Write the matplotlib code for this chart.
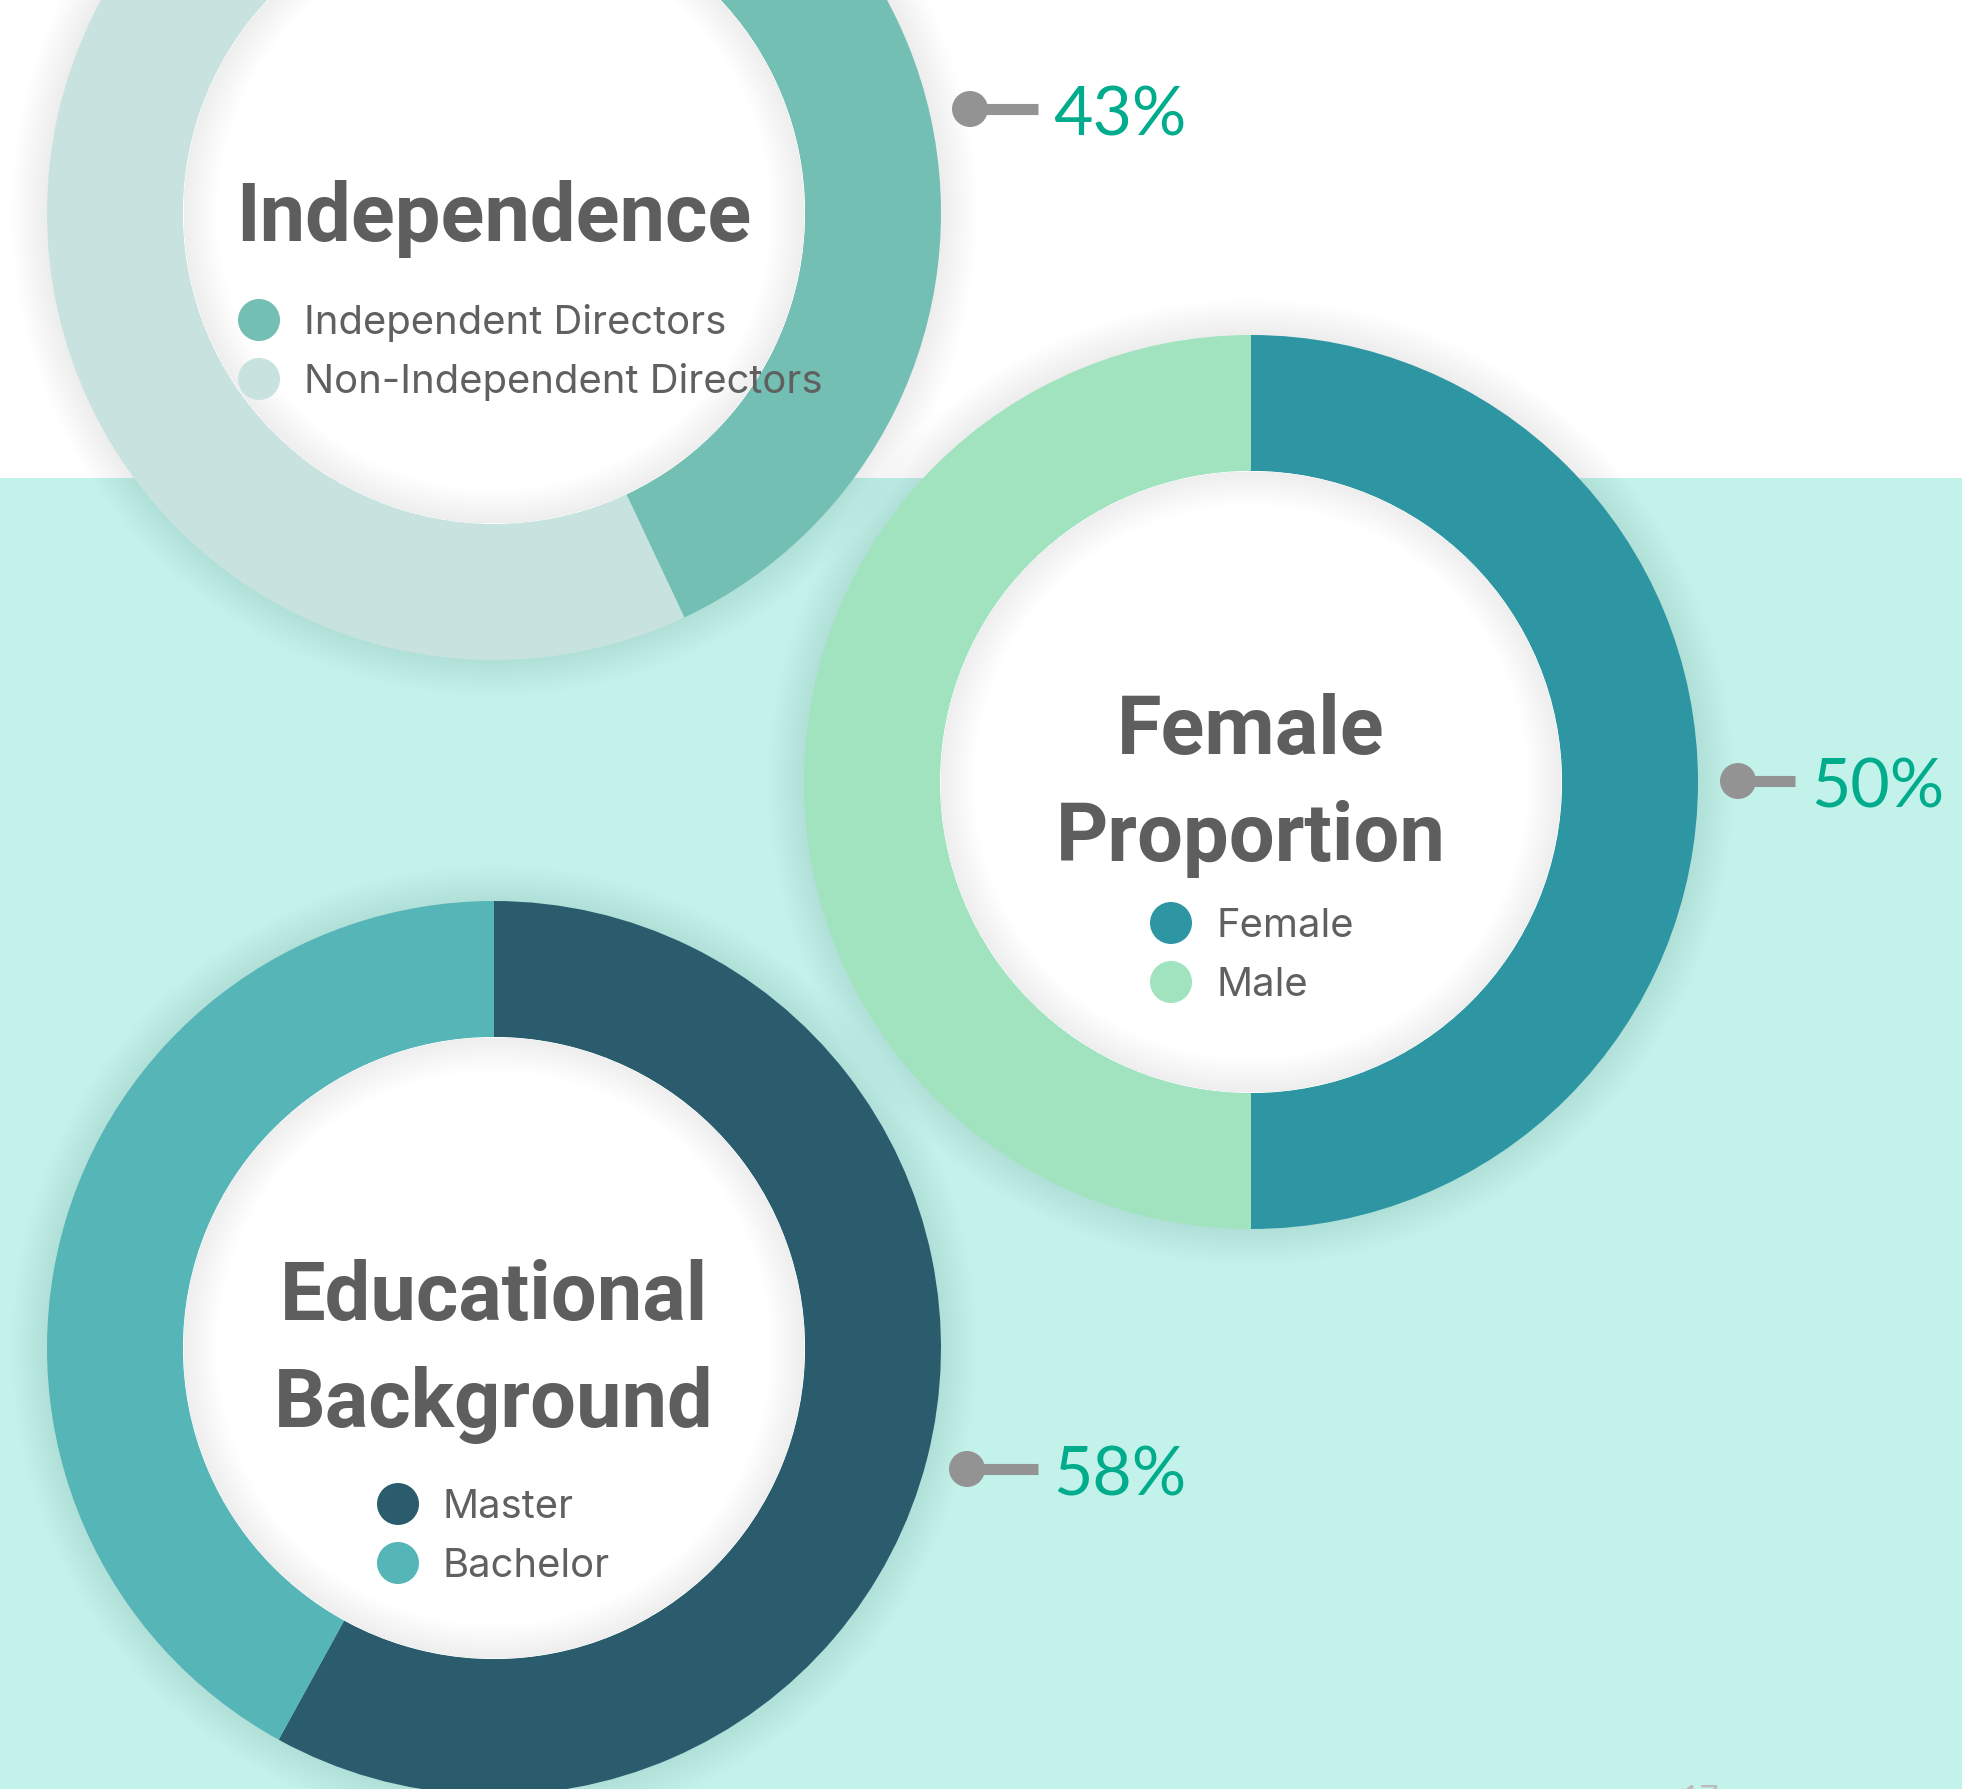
import matplotlib
matplotlib.use("Agg")
import matplotlib.pyplot as plt
from matplotlib.patches import Circle, Wedge, Rectangle

W, H = 1962, 1789

# board composition data
independence_labels = ["Independent Directors", "Non-Independent Directors"]
independence_values = [43, 57]
independence_colors = ["#74BFB3", "#C8E3DF"]

gender_labels = ["Female", "Male"]
gender_values = [50, 50]
gender_colors = ["#2E95A3", "#A0E3BE"]

education_labels = ["Master", "Bachelor"]
education_values = [58, 42]
education_colors = ["#2B5C6E", "#55B5B7"]

TITLE_COLOR = "#5E5E5E"
TEXT_COLOR = "#606060"
PCT_COLOR = "#00AC8B"
PIN_COLOR = "#939393"
BAND_COLOR = "#C2F2EA"

R_OUT, R_IN = 447, 311


def Y(y):
    """image-style y (from top) -> axes y"""
    return H - y


fig = plt.figure(figsize=(W / 100, H / 100), dpi=100)
fig.patch.set_facecolor("white")
ax = fig.add_axes([0, 0, 1, 1])

# teal band behind the lower part
ax.add_patch(Rectangle((0, 0), W, Y(478), color=BAND_COLOR, lw=0, zorder=0))


def donut(cx, cy, values, colors, title_lines, title_baselines, labels,
          legend_x, legend_ys):
    cy = Y(cy)
    # soft halo around the ring
    for k in range(18, 0, -1):
        ax.add_patch(Circle((cx, cy), R_OUT + 2 * k, color="#2f6e68",
                            alpha=0.0045, lw=0, zorder=1))
    wedges, _ = ax.pie(values, colors=colors, center=(cx, cy), radius=R_OUT,
                       startangle=90, counterclock=False,
                       wedgeprops=dict(width=R_OUT - R_IN, linewidth=0))
    for w in wedges:
        w.set_zorder(2)
    # white inner disc with shaded rim
    ax.add_patch(Circle((cx, cy), R_IN, color="white", lw=0, zorder=3))
    for k in range(1, 18):
        ax.add_patch(Wedge((cx, cy), R_IN - 0.5, 0, 360, width=2 * k,
                           color="#505050", alpha=0.005, lw=0, zorder=4))

    for line, base in zip(title_lines, title_baselines):
        ax.text(cx, Y(base), line, ha="center", va="baseline",
                fontsize=58.5, fontweight="bold", family="Roboto",
                color=TITLE_COLOR, zorder=6)
    for lab, col, ly in zip(labels, colors, legend_ys):
        ax.add_patch(Circle((legend_x, Y(ly)), 21, color=col, lw=0, zorder=6))
        ax.text(legend_x + 45, Y(ly + 14), lab, ha="left", va="baseline",
                fontsize=28.8, family="Inter", color=TEXT_COLOR, zorder=6)


def pct_label(dot_x, dot_y, line_end, text_x, baseline, value):
    ax.plot([dot_x, line_end], [Y(dot_y), Y(dot_y)], color=PIN_COLOR,
            lw=8, solid_capstyle="butt", zorder=6)
    ax.add_patch(Circle((dot_x, Y(dot_y)), 18, color=PIN_COLOR, lw=0, zorder=7))
    ax.text(text_x, Y(baseline), f"{value}%", ha="left", va="baseline",
            fontsize=49, family="Lato", color=PCT_COLOR, zorder=7)


donut(494, 213, independence_values, independence_colors,
      ["Independence"], [241], independence_labels, 259, [320, 379])
donut(1251, 782, gender_values, gender_colors,
      ["Female", "Proportion"], [754, 861], gender_labels, 1171, [923, 982])
donut(494, 1348, education_values, education_colors,
      ["Educational", "Background"], [1320, 1427], education_labels, 398,
      [1504, 1563])

pct_label(970, 109, 1038, 1053, 135, independence_values[0])
pct_label(1738, 781, 1795, 1811, 807, gender_values[0])
pct_label(967, 1469, 1038, 1053, 1495, education_values[0])

# page number, mostly cut off at the bottom edge
ax.text(1680, Y(1785), "17", ha="left", va="top", fontsize=24,
        family="Lato", color="#BBBBBB", zorder=7)

ax.set_xlim(0, W)
ax.set_ylim(0, H)
ax.set_aspect("auto")
ax.axis("off")

fig.savefig("out.png", dpi=100, facecolor="white")
